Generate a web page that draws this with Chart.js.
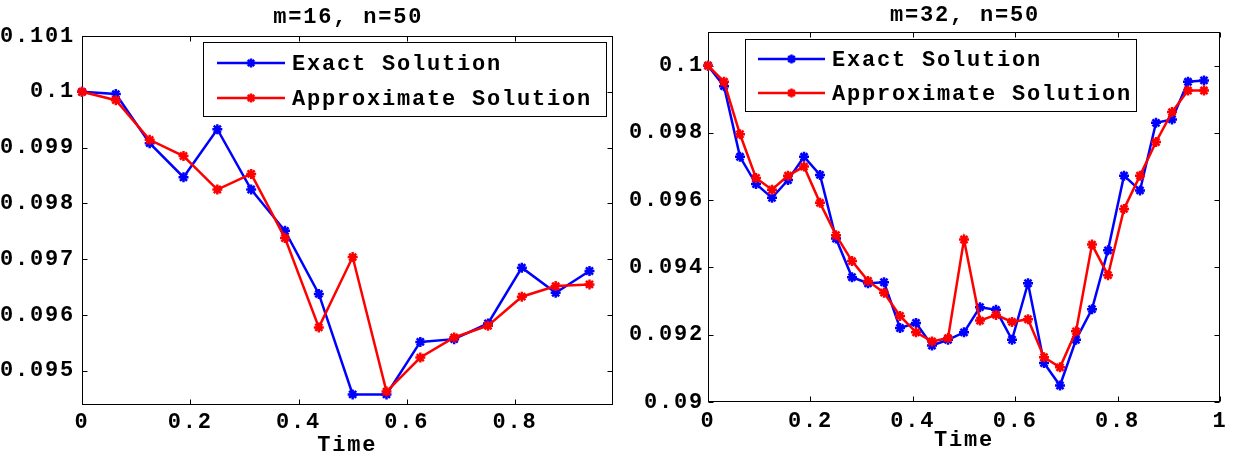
<!DOCTYPE html>
<html><head><meta charset="utf-8">
<script src="https://cdn.jsdelivr.net/npm/chart.js@4.4.0/dist/chart.umd.min.js"></script>
<style>
html,body{margin:0;padding:0;background:#fff;overflow:hidden;width:1243px;height:457px;}
#c1{position:absolute;left:0;top:0;}
#c2{position:absolute;left:620px;top:0;}
</style></head><body>
<canvas id="c1" width="620" height="457"></canvas>
<canvas id="c2" width="623" height="457"></canvas>
<script>
// ---------- data ----------
const leftTitle = 'm=16, n=50';
const rightTitle = 'm=32, n=50';
const seriesNames = ['Exact Solution', 'Approximate Solution'];
const xAxisTitle = 'Time';

const leftTimes = [0,0.0625,0.125,0.1875,0.25,0.3125,0.375,0.4375,0.5,0.5625,0.625,0.6875,0.75,0.8125,0.875,0.9375];
const leftExact = [0.1,0.09996,0.09908,0.09847,0.09933,0.09825,0.09751,0.09638,0.09458,0.09458,0.09552,0.09557,0.09585,0.09685,0.09640,0.09679];
const leftApprox = [0.1,0.09985,0.09914,0.09885,0.09825,0.09853,0.09738,0.09578,0.09704,0.09463,0.09524,0.09560,0.09581,0.09633,0.09652,0.09655];

const rightTimes = [0,0.03125,0.0625,0.09375,0.125,0.15625,0.1875,0.21875,0.25,0.28125,0.3125,0.34375,0.375,0.40625,0.4375,0.46875,0.5,0.53125,0.5625,0.59375,0.625,0.65625,0.6875,0.71875,0.75,0.78125,0.8125,0.84375,0.875,0.90625,0.9375,0.96875];
const rightExact = [0.1,0.09939,0.09729,0.09648,0.09607,0.09660,0.09729,0.09675,0.09486,0.09371,0.09353,0.09356,0.09220,0.09235,0.09168,0.09185,0.09207,0.09282,0.09274,0.09185,0.09353,0.09116,0.09049,0.09185,0.09276,0.09451,0.09673,0.09629,0.09830,0.09840,0.09952,0.09956];
const rightApprox = [0.1,0.09952,0.09796,0.09666,0.09631,0.09673,0.09700,0.09592,0.09496,0.09419,0.09360,0.09325,0.09256,0.09207,0.09180,0.09190,0.09483,0.09242,0.09259,0.09238,0.09246,0.09133,0.09103,0.09210,0.09468,0.09377,0.09574,0.09673,0.09773,0.09862,0.09926,0.09926];

const leftYTicks = [0.095,0.096,0.097,0.098,0.099,0.1,0.101];
const leftYLabels = ['0.095','0.096','0.097','0.098','0.099','0.1','0.101'];
const leftXTicks = [0,0.2,0.4,0.6,0.8];
const leftXLabels = ['0','0.2','0.4','0.6','0.8'];
const rightYTicks = [0.09,0.092,0.094,0.096,0.098,0.1];
const rightYLabels = ['0.09','0.092','0.094','0.096','0.098','0.1'];
const rightXTicks = [0,0.2,0.4,0.6,0.8,1];
const rightXLabels = ['0','0.2','0.4','0.6','0.8','1'];

// ---------- style ----------
const FONT_FAMILY = '"Liberation Mono", "Courier New", monospace';
const FONT_SIZE = 22;
const LETTER_SP = '1.8px';
const BLUE = '#0000ff', RED = '#ff0000';

function drawStar(ctx, x, y, r) {
  ctx.beginPath();
  ctx.moveTo(x - r, y); ctx.lineTo(x + r, y);
  ctx.moveTo(x, y - r); ctx.lineTo(x, y + r);
  const d = r * Math.SQRT1_2;
  ctx.moveTo(x - d, y - d); ctx.lineTo(x + d, y + d);
  ctx.moveTo(x - d, y + d); ctx.lineTo(x + d, y - d);
  ctx.stroke();
}

const spacingPlugin = {
  id: 'spacing',
  beforeDraw(chart) { chart.ctx.letterSpacing = LETTER_SP; }
};

const framePlugin = {
  id: 'frame',
  beforeDatasetsDraw(chart, args, opts) {
    const {ctx, chartArea: a, scales: {x, y}} = chart;
    ctx.save();
    ctx.strokeStyle = '#000'; ctx.lineWidth = 1;
    const L = Math.round(a.left) + 0.5, R = Math.round(a.right) - 0.5;
    const T = Math.round(a.top) + 0.5, B = Math.round(a.bottom) - 0.5;
    ctx.strokeRect(L, T, R - L, B - T);
    const tl = 5;
    ctx.beginPath();
    x.ticks.forEach(t => {
      const px = Math.round(x.getPixelForValue(t.value)) + 0.5;
      ctx.moveTo(px, B); ctx.lineTo(px, B - tl);
      ctx.moveTo(px, T); ctx.lineTo(px, T + tl);
    });
    y.ticks.forEach(t => {
      const py = Math.round(y.getPixelForValue(t.value)) + 0.5;
      ctx.moveTo(L, py); ctx.lineTo(L + tl, py);
      ctx.moveTo(R, py); ctx.lineTo(R - tl, py);
    });
    ctx.stroke();
    ctx.fillStyle = '#000';
    ctx.letterSpacing = LETTER_SP;
    ctx.font = 'bold ' + FONT_SIZE + 'px ' + FONT_FAMILY;
    ctx.textAlign = 'center'; ctx.textBaseline = 'middle';
    ctx.fillText(opts.text, (a.left + a.right) / 2 + 1, opts.y);
    ctx.restore();
  }
};

const boxLegendPlugin = {
  id: 'boxLegend',
  afterDraw(chart, args, o) {
    const ctx = chart.ctx;
    ctx.save();
    const [l, t, r, b] = o.box;
    ctx.fillStyle = '#fff';
    ctx.fillRect(l, t, r - l, b - t);
    ctx.strokeStyle = '#000'; ctx.lineWidth = 1;
    ctx.strokeRect(l, t, r - l, b - t);
    chart.data.datasets.forEach((ds, i) => {
      const yy = o.rows[i];
      ctx.strokeStyle = ds.borderColor;
      ctx.lineWidth = 2.5;
      ctx.beginPath(); ctx.moveTo(o.line[0], yy); ctx.lineTo(o.line[1], yy); ctx.stroke();
      ctx.lineWidth = 2.5;
      drawStar(ctx, (o.line[0] + o.line[1]) / 2, yy, 4.5);
      ctx.fillStyle = '#000';
      ctx.letterSpacing = LETTER_SP;
      ctx.font = 'bold ' + FONT_SIZE + 'px ' + FONT_FAMILY;
      ctx.textAlign = 'left'; ctx.textBaseline = 'middle';
      ctx.fillText(ds.label, o.textX, yy + 1);
    });
    ctx.restore();
  }
};

function makeDataset(label, times, vals, color, order) {
  return {
    label, order,
    data: times.map((t, i) => ({x: t, y: vals[i]})),
    borderColor: color, backgroundColor: color,
    pointBorderColor: color, pointBackgroundColor: color,
    borderWidth: 2.5, pointStyle: 'star', pointRadius: 5, pointBorderWidth: 2.5,
    pointHoverRadius: 5, tension: 0, clip: false
  };
}

function makeChart(el, cfg) {
  const tickFont = {family: FONT_FAMILY, weight: 'bold', size: FONT_SIZE};
  return new Chart(document.getElementById(el), {
    type: 'line',
    data: {
      datasets: [
        makeDataset(seriesNames[0], cfg.times, cfg.exact, BLUE, 2),
        makeDataset(seriesNames[1], cfg.times, cfg.approx, RED, 1)
      ]
    },
    options: {
      responsive: false, animation: false, devicePixelRatio: 1,
      layout: {padding: cfg.padding},
      events: [],
      scales: {
        x: {
          type: 'linear', min: cfg.xMin, max: cfg.xMax,
          afterFit(s) { s.height = cfg.xAxisHeight; },
          afterBuildTicks(s) { s.ticks = cfg.xTicks.map(v => ({value: v})); },
          ticks: {callback: (v, i) => cfg.xLabels[i], autoSkip: false, maxRotation: 0, minRotation: 0,
                  padding: cfg.xTickPad, color: '#000', font: tickFont},
          grid: {display: false, drawTicks: false},
          border: {display: false},
          title: {display: true, text: xAxisTitle, color: '#000',
                  font: {family: FONT_FAMILY, weight: 'bold', size: FONT_SIZE, lineHeight: 1},
                  padding: {top: 0, bottom: cfg.xTitlePadBottom}}
        },
        y: {
          type: 'linear', min: cfg.yMin, max: cfg.yMax,
          afterFit(s) { s.width = cfg.yAxisWidth; },
          afterBuildTicks(s) { s.ticks = cfg.yTicks.map(v => ({value: v})); },
          ticks: {callback: (v, i) => cfg.yLabels[i], autoSkip: false,
                  padding: cfg.yTickPad, color: '#000', font: tickFont},
          grid: {display: false, drawTicks: false},
          border: {display: false}
        }
      },
      plugins: {
        legend: {display: false},
        tooltip: {enabled: false},
        frame: {text: cfg.title, y: cfg.titleY},
        boxLegend: cfg.legend
      }
    },
    plugins: [spacingPlugin, framePlugin, boxLegendPlugin]
  });
}

makeChart('c1', {
  times: leftTimes, exact: leftExact, approx: leftApprox,
  xMin: 0, xMax: 0.98, yMin: 0.09439, yMax: 0.101,
  xTicks: leftXTicks, xLabels: leftXLabels, yTicks: leftYTicks, yLabels: leftYLabels,
  padding: {left: 0, right: 2, top: 36, bottom: 0},
  xAxisHeight: 52, yAxisWidth: 82, xTickPad: 4, yTickPad: 7, xTitlePadBottom: 1,
  title: leftTitle, titleY: 17,
  legend: {box: [203.5, 42.5, 606.5, 116.5], line: [217, 285], textX: 292, rows: [63, 98]}
});

makeChart('c2', {
  times: rightTimes, exact: rightExact, approx: rightApprox,
  xMin: 0, xMax: 1, yMin: 0.09, yMax: 0.101,
  xTicks: rightXTicks, xLabels: rightXLabels, yTicks: rightYTicks, yLabels: rightYLabels,
  padding: {left: 0, right: 23, top: 32, bottom: 0},
  xAxisHeight: 55, yAxisWidth: 88, xTickPad: 6, yTickPad: 4, xTitlePadBottom: 6,
  title: rightTitle, titleY: 15,
  legend: {box: [125.5, 39.5, 516.5, 111.5], line: [138, 205], textX: 212, rows: [59, 93]}
});
</script>
</body></html>
